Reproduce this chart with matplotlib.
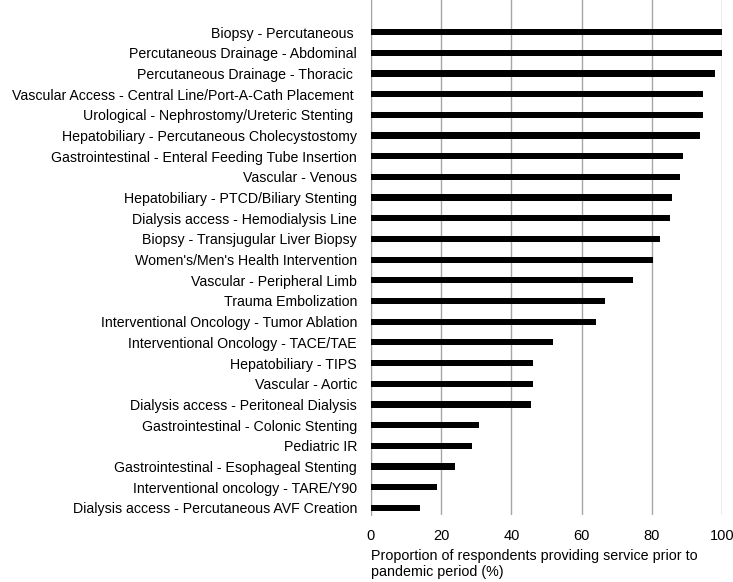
"""
Horizontal bar chart: IR services provided before the pandemic.
"""

import matplotlib.pyplot as plt

plt.rcParams['font.family'] = ['Liberation Sans', 'DejaVu Sans']

procedures = [
    'Biopsy - Percutaneous ',
    'Percutaneous Drainage - Abdominal',
    'Percutaneous Drainage - Thoracic ',
    'Vascular Access - Central Line/Port-A-Cath Placement ',
    'Urological - Nephrostomy/Ureteric Stenting ',
    'Hepatobiliary - Percutaneous Cholecystostomy',
    'Gastrointestinal - Enteral Feeding Tube Insertion',
    'Vascular - Venous',
    'Hepatobiliary - PTCD/Biliary Stenting',
    'Dialysis access - Hemodialysis Line',
    'Biopsy - Transjugular Liver Biopsy',
    "Women's/Men's Health Intervention",
    'Vascular - Peripheral Limb',
    'Trauma Embolization',
    'Interventional Oncology - Tumor Ablation',
    'Interventional Oncology - TACE/TAE',
    'Hepatobiliary - TIPS',
    'Vascular - Aortic',
    'Dialysis access - Peritoneal Dialysis',
    'Gastrointestinal - Colonic Stenting',
    'Pediatric IR',
    'Gastrointestinal - Esophageal Stenting',
    'Interventional oncology - TARE/Y90',
    'Dialysis access - Percutaneous AVF Creation',
]

proportion = [100, 100, 98.0, 94.5, 94.5, 93.6, 88.8, 87.9, 85.9, 85.1,
              82.4, 80.3, 74.6, 66.8, 64.0, 52.0, 46.3, 46.3, 45.7, 30.9,
              28.7, 23.9, 18.9, 14.0]

fig = plt.figure(figsize=(7.33, 5.82), dpi=100)
ax = fig.add_axes([0.506, 0.115, 0.479, 0.885])

y = list(range(len(procedures)))
ax.barh(y, proportion, height=0.3, color='black', zorder=3)

ax.set_yticks(y)
ax.set_yticklabels(procedures, fontsize=10.2)
ax.set_ylim(23.35, -1.55)
ax.set_xlim(0, 100)
ax.set_xticks([0, 20, 40, 60, 80, 100])
ax.tick_params(axis='x', labelsize=10.5, length=0, pad=10)
ax.tick_params(axis='y', length=0, pad=10)

ax.grid(axis='x', color='#a6a6a6', linewidth=1, zorder=0)
for side in ['top', 'right', 'bottom']:
    ax.spines[side].set_visible(False)
ax.spines['left'].set_color('#a6a6a6')

ax.set_xlabel('Proportion of respondents providing service prior to\npandemic period (%)',
              fontsize=10.3, loc='left', labelpad=4)
ax.xaxis.label.set_horizontalalignment('left')

fig.savefig('out.png', dpi=100)
